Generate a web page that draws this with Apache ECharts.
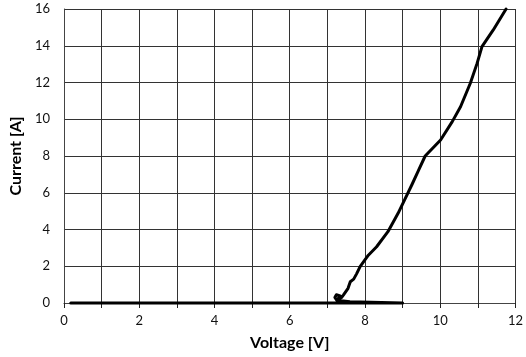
<!DOCTYPE html>
<html>
<head>
<meta charset="utf-8">
<script src="https://cdn.jsdelivr.net/npm/echarts@6/dist/echarts.min.js"></script>
<style>
html,body{margin:0;padding:0;background:#fff;}
#chart{width:526px;height:357px;}
</style>
</head>
<body>
<div id="chart"></div>
<script>
// Voltage [V] and Current [A]
const voltage = [0.18, 9.0, 7.6, 7.25, 7.2, 7.24, 7.34, 7.28, 7.38, 7.43, 7.55, 7.61, 7.7, 7.78, 7.87, 8.09, 8.31, 8.61, 8.88, 9.05, 9.25, 9.42, 9.6, 10.01, 10.32, 10.54, 10.8, 10.98, 11.11, 11.41, 11.75];
const current = [0.0, 0.0, 0.07, 0.15, 0.3, 0.45, 0.38, 0.22, 0.3, 0.44, 0.8, 1.16, 1.3, 1.6, 1.98, 2.6, 3.06, 3.88, 4.88, 5.6, 6.45, 7.2, 8.0, 8.87, 9.87, 10.68, 11.96, 13.04, 13.95, 14.86, 16.0];
const xTicks = [0, 2, 4, 6, 8, 10, 12];
const yTicks = [0, 2, 4, 6, 8, 10, 12, 14, 16];

const chart = echarts.init(document.getElementById('chart'), null, {renderer: 'canvas'});
const FONT = 'Lato, "Open Sans", sans-serif';
chart.setOption({
  animation: false,
  grid: {left: 62, right: 7, top: 9, bottom: 54, containLabel: false},
  xAxis: {
    type: 'value', min: 0, max: 12, interval: 1,
    name: 'Voltage [V]', nameLocation: 'middle', nameGap: 32,
    nameTextStyle: {fontFamily: FONT, fontWeight: 'bold', fontSize: 16, color: '#000'},
    axisLine: {show: true, lineStyle: {color: '#444', width: 1}},
    axisTick: {show: true, inside: false, length: 5, lineStyle: {color: '#222'}},
    axisLabel: {
      fontFamily: FONT, fontSize: 13, color: '#111', margin: 11,
      formatter: v => xTicks.includes(v) ? String(v) : ''
    },
    splitLine: {show: true, lineStyle: {color: '#333', width: 1}}
  },
  yAxis: {
    type: 'value', min: 0, max: 16, interval: 2,
    name: 'Current [A]', nameLocation: 'middle', nameGap: 38,
    nameTextStyle: {fontFamily: FONT, fontWeight: 'bold', fontSize: 16, color: '#000'},
    axisLine: {show: true, lineStyle: {color: '#444', width: 1}},
    axisTick: {show: false},
    axisLabel: {
      fontFamily: FONT, fontSize: 13, color: '#111', margin: 14,
      formatter: v => yTicks.includes(v) ? String(v) : ''
    },
    splitLine: {show: true, lineStyle: {color: '#333', width: 1}}
  },
  series: [{
    type: 'line',
    data: voltage.map((v, i) => [v, current[i]]),
    showSymbol: false,
    smooth: false,
    lineStyle: {color: '#000', width: 3, join: 'round', cap: 'round'},
    clip: false
  }]
});
</script>
</body>
</html>
